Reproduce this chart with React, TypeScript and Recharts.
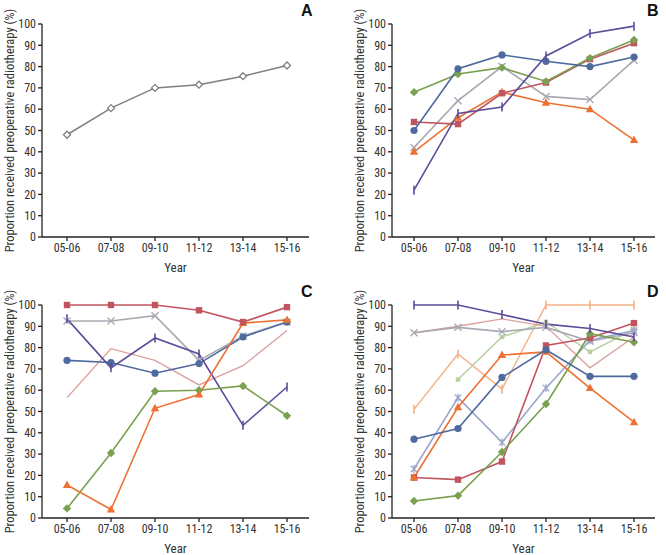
import React from 'react';
import { LineChart, Line, XAxis, YAxis } from 'recharts';

const years = ['05-06', '07-08', '09-10', '11-12', '13-14', '15-16'];
const yTicks = [0, 10, 20, 30, 40, 50, 60, 70, 80, 90, 100];

// A: overall
const aOverall = [48, 60.5, 70, 71.5, 75.5, 80.5];

// B
const bBlue = [50, 79, 85.5, 82.5, 80, 84.5];
const bRed = [54, 53, 67.5, 72.5, 83.5, 91];
const bGreen = [68, 76.5, 79.5, 73, 84, 92.5];
const bPurple = [22, 58, 61, 85, 95.5, 99];
const bGray = [42, 64, 80, 66, 64.5, 83];
const bOrange = [40, 56, 68, 63, 60, 45.5];

// C
const cRed = [100, 100, 100, 97.5, 92, 99];
const cGray = [92.5, 92.5, 95, 74, 85.5, 92];
const cBlue = [74, 73, 68, 72.5, 85, 92];
const cPurple = [93.5, 70.5, 84.5, 77, 43.5, 61.5];
const cPink = [56.5, 79.5, 74, 62.5, 71.5, 88];
const cGreen = [4.5, 30.5, 59.5, 60, 62, 48];
const cOrange = [15.5, 4, 51.5, 58, 91.5, 93];

// D
const dPurple = [100, 100, 95.5, 91, 89, 85];
const dPink = [87, 90, 93.5, 90, 70.5, 85];
const dGray = [87, 89.5, 87.5, 89.5, 83, 87];
const dRed = [19, 18, 26.5, 81, 84.5, 91.5];
const dBlue = [37, 42, 66, 79, 66.5, 66.5];
const dOrange = [19, 52, 76.5, 78, 61, 45];
const dGreen = [8, 10.5, 31, 53.5, 86.5, 82.5];
const dLightGreen = [null, 65, 85, 92, 78, 88.5];
const dPeach = [51, 77, 60.5, 100, 100, 100];
const dSteel = [23, 56.5, 35.5, 61, 83.5, 88];

const BLUE = '#4f6a9e';
const RED = '#c05560';
const GREEN = '#79a150';
const PURPLE = '#5d4c9b';
const GRAY = '#a9a9b3';
const ORANGE = '#ec7132';
const PINK = '#dda0a0';
const LGREEN = '#b6cf9c';
const PEACH = '#f3b088';
const STEEL = '#9aa7c9';

const FONT = "'Liberation Sans Narrow', 'Roboto Condensed', Roboto, sans-serif";

type Series = { key: string; values: (number | null)[]; color: string; marker: string; width?: number };

const makeDot = (shape: string, color: string) => (props: any) => {
  const { cx, cy, index, value } = props;
  const k = `${shape}-${index}`;
  if (cx == null || cy == null || value == null) return <g key={k} />;
  switch (shape) {
    case 'circle':
      return <circle key={k} cx={cx} cy={cy} r={3.6} fill={color} />;
    case 'square':
      return <rect key={k} x={cx - 3.2} y={cy - 3.2} width={6.4} height={6.4} fill={color} />;
    case 'smallSquare':
      return <rect key={k} x={cx - 2.2} y={cy - 2.2} width={4.4} height={4.4} fill={color} />;
    case 'diamond':
      return <path key={k} d={`M${cx},${cy - 4.2}L${cx + 4.2},${cy}L${cx},${cy + 4.2}L${cx - 4.2},${cy}Z`} fill={color} />;
    case 'hollowDiamond':
      return <path key={k} d={`M${cx},${cy - 3.5}L${cx + 3.5},${cy}L${cx},${cy + 3.5}L${cx - 3.5},${cy}Z`} fill="#fff" stroke={color} strokeWidth={1.3} />;
    case 'triangle':
      return <path key={k} d={`M${cx},${cy - 4.5}L${cx + 4.2},${cy + 3}L${cx - 4.2},${cy + 3}Z`} fill={color} />;
    case 'bar':
      return <path key={k} d={`M${cx},${cy - 4.5}L${cx},${cy + 4.5}`} stroke={color} strokeWidth={1.6} />;
    case 'cross':
      return <path key={k} d={`M${cx - 3.5},${cy - 3.5}L${cx + 3.5},${cy + 3.5}M${cx + 3.5},${cy - 3.5}L${cx - 3.5},${cy + 3.5}`} stroke={color} strokeWidth={1.4} />;
    case 'star':
      return <path key={k} d={`M${cx - 3.2},${cy - 3.2}L${cx + 3.2},${cy + 3.2}M${cx + 3.2},${cy - 3.2}L${cx - 3.2},${cy + 3.2}M${cx},${cy - 4}L${cx},${cy + 4}`} stroke={color} strokeWidth={1.3} />;
    default:
      return <g key={k} />;
  }
};

const Panel = ({ series, letter, left, top, width, marginRight, padLeft, padRight }: {
  series: Series[]; letter: string; left: number; top: number; width: number; marginRight: number; padLeft: number; padRight: number;
}) => {
  const data = years.map((y, i) => {
    const row: any = { year: y };
    series.forEach((s) => { row[s.key] = s.values[i]; });
    return row;
  });
  const tick = { fontSize: 12, fill: '#333', fontFamily: FONT };
  return (
    <div style={{ position: 'absolute', left, top }}>
      <LineChart width={width} height={277} data={data} margin={{ top: 24, right: marginRight, bottom: 0, left: 4 }}>
        <XAxis
          dataKey="year"
          height={40}
          padding={{ left: padLeft, right: padRight }}
          stroke="#222"
          strokeWidth={1.3}
          tickSize={4}
          tickMargin={2}
          tick={tick}
          interval={0}
          label={{ value: 'Year', position: 'insideBottom', offset: 5, style: { fontSize: 13, fill: '#333', fontFamily: FONT } }}
        />
        <YAxis
          width={38}
          domain={[0, 100]}
          ticks={yTicks}
          interval={0}
          stroke="#222"
          strokeWidth={1.3}
          tickSize={4}
          tickMargin={2}
          tick={tick}
          label={{
            value: 'Proportion received preoperative radiotherapy (%)',
            angle: -90,
            position: 'insideLeft',
            offset: 6,
            style: { textAnchor: 'middle', fontSize: 12.5, fill: '#333', fontFamily: FONT },
          }}
        />
        {series.map((s) => (
          <Line
            key={s.key}
            dataKey={s.key}
            stroke={s.color}
            strokeWidth={s.width ?? 1.6}
            dot={makeDot(s.marker, s.color)}
            activeDot={false}
            isAnimationActive={false}
          />
        ))}
      </LineChart>
      <div style={{ position: 'absolute', left: width - marginRight - 8, top: 2, fontFamily: 'Liberation Sans, Arial, sans-serif', fontWeight: 'bold', fontSize: 16, color: '#111' }}>
        {letter}
      </div>
    </div>
  );
};

const seriesA: Series[] = [{ key: 'overall', values: aOverall, color: '#7f7f7f', marker: 'hollowDiamond', width: 1.5 }];

const seriesB: Series[] = [
  { key: 'gray', values: bGray, color: GRAY, marker: 'cross' },
  { key: 'orange', values: bOrange, color: ORANGE, marker: 'triangle' },
  { key: 'red', values: bRed, color: RED, marker: 'square' },
  { key: 'green', values: bGreen, color: GREEN, marker: 'diamond' },
  { key: 'blue', values: bBlue, color: BLUE, marker: 'circle' },
  { key: 'purple', values: bPurple, color: PURPLE, marker: 'bar' },
];

const seriesC: Series[] = [
  { key: 'pink', values: cPink, color: PINK, marker: 'none', width: 1.4 },
  { key: 'gray', values: cGray, color: GRAY, marker: 'cross' },
  { key: 'blue', values: cBlue, color: BLUE, marker: 'circle' },
  { key: 'purple', values: cPurple, color: PURPLE, marker: 'bar' },
  { key: 'green', values: cGreen, color: GREEN, marker: 'diamond' },
  { key: 'orange', values: cOrange, color: ORANGE, marker: 'triangle' },
  { key: 'red', values: cRed, color: RED, marker: 'square' },
];

const seriesD: Series[] = [
  { key: 'peach', values: dPeach, color: PEACH, marker: 'bar', width: 1.4 },
  { key: 'lgreen', values: dLightGreen, color: LGREEN, marker: 'smallSquare', width: 1.4 },
  { key: 'pink', values: dPink, color: PINK, marker: 'none', width: 1.4 },
  { key: 'gray', values: dGray, color: GRAY, marker: 'cross' },
  { key: 'steel', values: dSteel, color: STEEL, marker: 'star' },
  { key: 'red', values: dRed, color: RED, marker: 'square' },
  { key: 'green', values: dGreen, color: GREEN, marker: 'diamond' },
  { key: 'orange', values: dOrange, color: ORANGE, marker: 'triangle' },
  { key: 'blue', values: dBlue, color: BLUE, marker: 'circle' },
  { key: 'purple', values: dPurple, color: PURPLE, marker: 'bar' },
];

export default function App() {
  return (
    <div style={{ position: 'absolute', left: 0, top: 0, width: 666, height: 555, background: '#fff', overflow: 'hidden' }}>
      <Panel series={seriesA} letter="A" left={0} top={0} width={333} marginRight={24} padLeft={25} padRight={22} />
      <Panel series={seriesB} letter="B" left={350} top={0} width={316} marginRight={11} padLeft={22} padRight={21} />
      <Panel series={seriesC} letter="C" left={0} top={281} width={333} marginRight={24} padLeft={25} padRight={22} />
      <Panel series={seriesD} letter="D" left={350} top={281} width={316} marginRight={11} padLeft={22} padRight={21} />
    </div>
  );
}
